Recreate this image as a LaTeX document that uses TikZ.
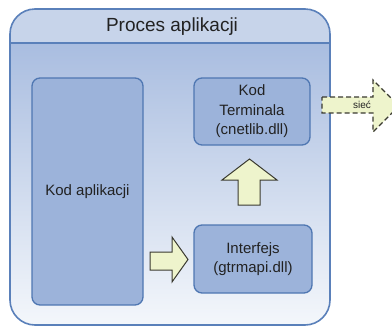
\documentclass[tikz,border=0pt]{standalone}
\usepackage{fontspec}
\setmainfont{Liberation Sans}
\definecolor{bandc}{HTML}{C7D4EA}
\definecolor{bodytop}{HTML}{A9BDE0}
\definecolor{bodybot}{HTML}{F4F7FB}
\definecolor{outerline}{HTML}{5A80BA}
\definecolor{boxline}{HTML}{4F77B2}
\definecolor{boxfill}{HTML}{9CB3DA}
\definecolor{txt}{HTML}{222222}
\definecolor{arrfill}{HTML}{EEF4CC}
\definecolor{arrline}{HTML}{3A3A30}
\begin{document}
\begin{tikzpicture}[x=1pt,y=-1pt,
  box/.style={draw=boxline, line width=1.3pt, fill=boxfill, rounded corners=8pt,
    align=center, font=\fontsize{15}{19.5}\selectfont, text=txt, inner sep=0pt},
  blockarrow/.style={draw=arrline, line width=1pt, fill=arrfill, line join=miter},
  netarrow/.style={draw=arrline, line width=1.3pt, fill=arrfill, dash pattern=on 5pt off 3pt}]
\useasboundingbox (0,0) rectangle (392,327);
\clip (0,0) rectangle (392,327);
% outer process box
\begin{scope}
  \clip[rounded corners=25pt] (10,9) rectangle (330,325);
  \shade[top color=bodytop, bottom color=bodybot] (10,43) rectangle (330,325);
  \fill[bandc] (10,9) rectangle (330,43);
\end{scope}
\draw[outerline, line width=1.3pt] (10,43) -- (330,43);
\draw[outerline, line width=1.6pt, rounded corners=25pt] (10,9) rectangle (330,325);
\node[font=\fontsize{19}{23}\selectfont, text=txt] (title) at (172,27) {Proces aplikacji};
% inner boxes
\node[box, minimum width=111pt, minimum height=227pt] (app) at (87.5,191.5) {Kod aplikacji};
\node[box, minimum width=116pt, minimum height=67pt] (term) at (252,111.5) {Kod\\Terminala\\(cnetlib.dll)};
\node[box, minimum width=118pt, minimum height=68pt] (intf) at (253,259) {Interfejs\\(gtrmapi.dll)};
% block arrows
\draw[blockarrow] (249.5,159) -- (277,180) -- (260,180) -- (260,205) -- (238,205) -- (238,180) -- (222,180) -- cycle;
\draw[blockarrow] (188,259.5) -- (172,282) -- (172,270) -- (150,270) -- (150,252) -- (172,252) -- (172,237) -- cycle;
% network arrow
\draw[netarrow] (322,97) -- (373,97) -- (373,80) -- (399,106) -- (373,132) -- (373,113) -- (322,113) -- cycle;
\node[font=\fontsize{10}{12}\selectfont, text=txt] (net) at (362,105) {sieć};
\end{tikzpicture}
\end{document}
